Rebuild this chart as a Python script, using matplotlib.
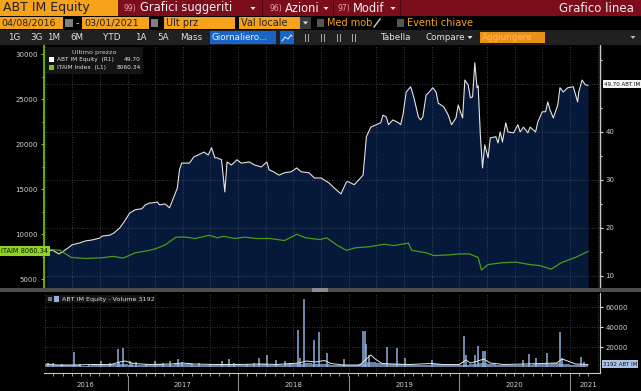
import numpy as np
import matplotlib
matplotlib.use('Agg')
import matplotlib.pyplot as plt
from matplotlib.patches import Rectangle
from matplotlib.lines import Line2D
from matplotlib.transforms import blended_transform_factory

plt.rcParams['font.family'] = ['Liberation Sans Narrow', 'DejaVu Sans']

# =============================================================================
# DATA (decimal years)
# =============================================================================
abt_t = [2016.27, 2016.32, 2016.38, 2016.41, 2016.46, 2016.50, 2016.57, 2016.62,
         2016.68, 2016.75, 2016.77, 2016.84, 2016.88, 2016.93, 2016.97, 2017.02,
         2017.07, 2017.13, 2017.16, 2017.20, 2017.22, 2017.27, 2017.29, 2017.34,
         2017.38, 2017.42, 2017.45, 2017.47, 2017.49, 2017.56, 2017.60, 2017.64,
         2017.69, 2017.73, 2017.76, 2017.79, 2017.81, 2017.85, 2017.88, 2017.90,
         2017.94, 2017.99, 2018.03, 2018.10, 2018.15, 2018.21, 2018.26, 2018.28,
         2018.32, 2018.37, 2018.42, 2018.48, 2018.53, 2018.57, 2018.64, 2018.69,
         2018.75, 2018.82, 2018.87, 2018.93, 2018.98, 2019.00, 2019.05, 2019.09,
         2019.13, 2019.16, 2019.20, 2019.25, 2019.29, 2019.31, 2019.34, 2019.36,
         2019.40, 2019.45, 2019.47, 2019.49, 2019.52, 2019.56, 2019.59, 2019.63,
         2019.65, 2019.67, 2019.70, 2019.72, 2019.76, 2019.79, 2019.81, 2019.86,
         2019.90, 2019.93, 2019.97, 2019.99, 2020.01, 2020.03, 2020.05, 2020.08,
         2020.10, 2020.12, 2020.14, 2020.16, 2020.17, 2020.19, 2020.21, 2020.23,
         2020.26, 2020.28, 2020.33, 2020.35, 2020.37, 2020.39, 2020.42, 2020.44,
         2020.49, 2020.53, 2020.55, 2020.58, 2020.62, 2020.64, 2020.69, 2020.71,
         2020.75, 2020.78, 2020.80, 2020.82, 2020.85, 2020.89, 2020.91, 2020.94,
         2020.98, 2021.03, 2021.07, 2021.08, 2021.11, 2021.14, 2021.164]
abt_px = [15.0, 15.4, 14.6, 15.0, 15.8, 16.5, 16.9, 17.3,
          17.5, 17.9, 18.3, 18.5, 19.0, 20.0, 21.3, 23.1,
          23.8, 24.0, 24.8, 25.2, 25.2, 25.4, 24.8, 25.0,
          24.2, 26.5, 28.3, 32.1, 33.5, 33.5, 34.8, 35.2,
          35.8, 35.2, 36.7, 34.6, 34.6, 34.2, 27.5, 33.75,
          33.1, 34.2, 33.5, 33.75, 33.1, 32.7, 33.75, 32.1,
          31.7, 31.0, 31.5, 31.7, 32.5, 31.7, 31.5, 30.4,
          30.4, 29.4, 28.3, 27.1, 29.6, 29.6, 29.0, 30.0,
          31.0, 39.0, 41.0, 41.5, 41.9, 43.5, 43.1, 41.5,
          42.5, 41.9, 41.5, 43.5, 48.3, 49.4, 47.1, 43.1,
          42.5, 43.1, 47.7, 48.1, 49.2, 48.3, 46.0, 45.2,
          43.5, 41.5, 42.9, 45.6, 44.2, 42.9, 50.8, 49.8,
          47.1, 47.3, 54.4, 49.2, 49.6, 39.4, 32.5, 37.3,
          34.6, 38.75, 39.0, 37.7, 40.0, 37.9, 41.9, 40.0,
          39.8, 41.5, 40.0, 41.0, 39.8, 41.0, 40.0, 42.1,
          44.2, 44.2, 46.25, 44.6, 42.9, 45.6, 49.2, 48.3,
          49.2, 49.4, 46.25, 48.3, 50.8, 49.8, 49.70]

itaim_t = [2016.27, 2016.39, 2016.49, 2016.62, 2016.76, 2016.87, 2016.96, 2017.07,
           2017.20, 2017.26, 2017.34, 2017.44, 2017.52, 2017.61, 2017.74, 2017.81,
           2017.87, 2017.97, 2018.06, 2018.16, 2018.29, 2018.42, 2018.53, 2018.61,
           2018.74, 2018.80, 2018.90, 2018.98, 2019.06, 2019.19, 2019.32, 2019.41,
           2019.54, 2019.57, 2019.70, 2019.77, 2019.90, 2020.00, 2020.09, 2020.17,
           2020.20, 2020.26, 2020.38, 2020.51, 2020.64, 2020.73, 2020.83, 2020.92,
           2021.05, 2021.164]
itaim_px = [8311, 8189, 7400, 7278, 7356, 7511, 7322, 7911,
            8189, 8389, 8789, 9656, 9656, 9500, 9856, 9578,
            9733, 9500, 9656, 9500, 9500, 9267, 9978, 9578,
            9378, 9578, 8711, 8189, 8467, 8589, 8867, 8711,
            8989, 8189, 7911, 7600, 7678, 7789, 7789, 7400,
            6011, 6600, 6800, 6878, 6600, 6489, 6089, 6800,
            7400, 8060.34]

# volume spikes (daily bars that stand out)
vol_spike_t = [2016.28, 2016.33, 2016.41, 2016.52, 2016.57, 2016.65, 2016.76, 2016.84,
               2016.91, 2016.92, 2016.96, 2017.02, 2017.04, 2017.08, 2017.17, 2017.25,
               2017.32, 2017.38, 2017.46, 2017.49, 2017.58, 2017.65, 2017.75, 2017.85,
               2017.92, 2017.96, 2018.08, 2018.14, 2018.19, 2018.26, 2018.34, 2018.42,
               2018.47, 2018.54, 2018.56, 2018.60, 2018.69, 2018.73, 2018.80, 2018.96,
               2019.13, 2019.15, 2019.16, 2019.18, 2019.35, 2019.44, 2019.51, 2019.75,
               2020.04, 2020.06, 2020.14, 2020.17, 2020.21, 2020.23, 2020.58, 2020.63,
               2020.69, 2020.79, 2020.91, 2020.93, 2021.10, 2021.13]
vol_spike_v = [4000, 4000, 3000, 15000, 3500, 3000, 6000, 4500,
               18000, 5000, 19000, 6000, 4000, 5000, 3000, 6000,
               4000, 6000, 8000, 5000, 3500, 4000, 3000, 6000,
               8000, 4500, 3000, 4000, 9000, 12000, 7000, 6000,
               4000, 37000, 9000, 68000, 27000, 35000, 14000, 8000,
               36000, 36000, 23000, 12000, 20000, 19000, 9000, 7000,
               31000, 12000, 12000, 21000, 16000, 16000, 7000, 13000,
               9000, 14000, 35000, 9000, 10000, 5000]

# typical (background) monthly volume level, Apr-2016 .. Feb-2021
vol_base = [3000, 1500, 1800, 1500, 1200, 2000, 1500, 2500, 3000,
            2000, 1800, 2200, 2500, 2000, 3000, 2500, 1500, 2000, 2200, 2500, 2000,
            1800, 2200, 2500, 2000, 2200, 3000, 2500, 3500, 3000, 2500, 2200, 1500,
            1800, 2500, 4500, 3500, 3000, 2500, 2500, 2000, 2000, 2500, 2000, 1800,
            2000, 2500, 4000, 3000, 2000, 1800, 1500, 2000, 2500, 3000, 3500, 2500,
            2000, 2200]

vol_ma_t = [2016.27, 2016.35, 2016.50, 2016.70, 2016.85, 2016.93, 2016.98, 2017.05,
            2017.20, 2017.40, 2017.50, 2017.60, 2017.80, 2018.00, 2018.20, 2018.35,
            2018.55, 2018.62, 2018.70, 2018.78, 2018.84, 2018.95, 2019.10, 2019.16,
            2019.20, 2019.24, 2019.30, 2019.40, 2019.55, 2019.75, 2019.85, 2020.00,
            2020.06, 2020.10, 2020.17, 2020.22, 2020.28, 2020.40, 2020.60, 2020.75,
            2020.88, 2020.93, 2020.98, 2021.05, 2021.164]
vol_ma_v = [3000, 2000, 2000, 2500, 2500, 5000, 6000, 3500,
            2500, 3000, 4000, 3000, 2500, 2500, 3000, 2500,
            4000, 6000, 5000, 6500, 3500, 2000, 2000, 8000,
            12000, 8000, 3500, 3000, 2500, 3500, 2500, 2500,
            7000, 4000, 6000, 8000, 4000, 2500, 3000, 3500,
            4000, 8000, 6000, 3000, 2500]

years = [2016, 2017, 2018, 2019, 2020, 2021]

# =============================================================================
# STYLE
# =============================================================================
W, H = 641, 391
RED = '#7c0d1a'
ORANGE = '#f7a21b'
NAVY = '#06193a'
LIME = '#78c80a'
GRID = '#46505c'
TXT = '#d0d0d0'
VOLC = '#8fb0dc'
X0, X1 = 2016.245, 2021.272


def fx(px):
    return px / W


def fy(py):
    return 1 - py / H


def box(fig, x0, y0, x1, y1, color, **kw):
    fig.patches.append(Rectangle((fx(x0), fy(y1)), fx(x1 - x0), (y1 - y0) / H,
                                 transform=fig.transFigure, facecolor=color,
                                 edgecolor='none', **kw))


def seg(fig, xs, ys, color, lw=0.8):
    fig.lines.append(Line2D([fx(v) for v in xs], [fy(v) for v in ys],
                            transform=fig.transFigure, color=color, lw=lw))


def txt(fig, x, y, s, size=8, color='white', ha='left', **kw):
    fig.text(fx(x), fy(y), s, fontsize=size, color=color, ha=ha, va='center', **kw)


def caret(fig, x, y, color='#f0f0f0'):
    # small downward triangle used by the terminal's drop-down buttons
    fig.patches.append(plt.Polygon([(fx(x - 2.5), fy(y - 1.5)), (fx(x + 2.5), fy(y - 1.5)),
                                    (fx(x), fy(y + 1.5))], closed=True,
                                   transform=fig.transFigure, facecolor=color,
                                   edgecolor='none'))


fig = plt.figure(figsize=(W / 100, H / 100), dpi=100, facecolor='black')

# =============================================================================
# HEADER
# =============================================================================
box(fig, 0, 0, 641, 16, RED)
box(fig, 0, 0, 118, 16, ORANGE)
txt(fig, 3, 8, 'ABT IM Equity', size=9, color='#222222')
for sx in [262, 333, 400]:
    box(fig, sx, 0, sx + 1, 16, '#4a0610')
txt(fig, 124, 8.5, '99)', size=5.5, color='#e8a0a8')
txt(fig, 140, 8, 'Grafici suggeriti', size=8.3, color='#f0f0f0')
caret(fig, 253, 8.5)
txt(fig, 270, 8.5, '96)', size=5.5, color='#e8a0a8')
txt(fig, 285, 8, 'Azioni', size=8.3, color='#f0f0f0')
caret(fig, 326, 8.5)
txt(fig, 338, 8.5, '97)', size=5.5, color='#e8a0a8')
txt(fig, 353, 8, 'Modif', size=8.3, color='#f0f0f0')
caret(fig, 393, 8.5)
txt(fig, 634, 8, 'Grafico linea', size=8.5, color='#f0f0f0', ha='right')

# row 2
box(fig, 0, 17, 63, 29, ORANGE)
txt(fig, 1, 23, '04/08/2016', size=6.8, color='#222222')
box(fig, 65, 19, 73, 27, '#808080')
txt(fig, 76, 23, '-', size=7, color='#dddddd')
box(fig, 82, 17, 149, 29, ORANGE)
txt(fig, 84, 23, '03/01/2021', size=6.8, color='#222222')
box(fig, 151, 19, 158, 27, '#808080')
box(fig, 164, 17, 235, 29, ORANGE)
txt(fig, 166, 23, 'Ult prz', size=7, color='#222222')
box(fig, 239, 17, 300, 29, ORANGE)
txt(fig, 241, 23, 'Val locale', size=7, color='#222222')
box(fig, 300, 17, 311, 29, '#3a3a3a')
caret(fig, 305.5, 23, '#dddddd')
box(fig, 317, 19, 324, 27, '#555555')
txt(fig, 327, 23, 'Med mob', size=7, color=ORANGE)
seg(fig, [374, 380], [27, 19], '#cccccc', lw=1.0)
box(fig, 397, 19, 404, 27, '#555555')
txt(fig, 407, 23, 'Eventi chiave', size=7, color=ORANGE)

# row 3 toolbar
box(fig, 0, 30, 641, 45, '#202020')
for lab, lx in [('1G', 8), ('3G', 30), ('1M', 47), ('6M', 70), ('YTD', 103),
                ('1A', 135), ('5A', 157), ('Mass', 180)]:
    txt(fig, lx, 37.5, lab, size=6.3, color='#e0e0e0')
box(fig, 210, 31, 276, 44, '#1a64c8')
txt(fig, 212, 37.5, 'Giornaliero...', size=6.3, color='#f0f0f0')
box(fig, 280, 31, 294, 44, '#1a64c8')
seg(fig, [282, 285, 288, 291, 292], [41, 37, 39, 35, 36], '#f0f0f0', lw=0.7)
for ix in [305, 321, 337, 352]:
    for dx in [0, 3]:
        seg(fig, [ix + dx, ix + dx], [34, 41], '#aaaaaa', lw=0.7)
txt(fig, 380, 37.5, 'Tabella', size=6.3, color='#e0e0e0')
txt(fig, 425, 37.5, 'Compare', size=6.3, color='#e0e0e0')
caret(fig, 470, 37.5, '#e0e0e0')
box(fig, 480, 32, 545, 43, '#e8901a')
txt(fig, 482, 37.5, 'Aggiungere', size=6.3, color='#ffc04d')
caret(fig, 633, 37.5, '#bbbbbb')

# =============================================================================
# MAIN PANEL
# =============================================================================
rect = [fx(44), fy(290), fx(556), 245 / H]
ax_r = fig.add_axes(rect)
ax_r.set_facecolor('black')
ax_r.fill_between(abt_t, abt_px, 0, color=NAVY, lw=0, zorder=1)
ax_r.plot(abt_t, abt_px, color='#e4e4e4', lw=0.8, zorder=4)
ax_r.set_xlim(X0, X1)
ax_r.set_ylim(7.08, 58.1)
ax_r.yaxis.tick_right()
ax_r.set_yticks([10, 20, 30, 40])
ax_r.set_yticks([15, 25, 35, 45, 55], minor=True)
ax_r.tick_params(axis='y', which='both', colors='#e0e0e0', labelsize=5,
                 length=2.5, width=0.8, pad=1.5, labelcolor=TXT)
ax_r.tick_params(axis='y', which='minor', length=1.5)
ax_r.set_xticks([])
for yv in [10, 20, 30, 40, 50]:
    ax_r.axhline(yv, color=GRID, lw=0.6, ls=(0, (1, 2)), zorder=2)
for yr in np.arange(2016.25, 2021.3, 0.25):
    ax_r.axvline(yr, color=GRID, lw=0.6, ls=(0, (1, 2)), zorder=2)
for s in ['top', 'left', 'bottom']:
    ax_r.spines[s].set_visible(False)
ax_r.spines['right'].set_color('#c8c8c8')
ax_r.spines['right'].set_linewidth(1.0)

ax_l = fig.add_axes(rect, sharex=ax_r)
ax_l.patch.set_visible(False)
ax_l.plot(itaim_t, itaim_px, color='#4c9a18', lw=0.9, zorder=3)
ax_l.set_ylim(3778, 31000)
ax_l.set_yticks([5000, 10000, 15000, 20000, 25000, 30000])
ax_l.set_yticks([7500, 12500, 17500, 22500, 27500], minor=True)
ax_l.tick_params(axis='y', which='both', colors=LIME, labelsize=5, length=2.5,
                 width=0.8, pad=2, labelcolor=TXT)
ax_l.tick_params(axis='y', which='minor', length=1.5)
ax_l.tick_params(axis='x', bottom=False, labelbottom=False)
for s in ['top', 'right', 'bottom']:
    ax_l.spines[s].set_visible(False)
ax_l.spines['left'].set_color(LIME)
ax_l.spines['left'].set_linewidth(1.2)

# legend box
box(fig, 46, 47, 143, 74, '#141414')
txt(fig, 94, 52.5, 'Ultimo prezzo', size=4.6, color='#cfcfcf', ha='center')
box(fig, 49, 57, 54, 62, 'white')
txt(fig, 57, 59.5, 'ABT IM Equity  (R1)', size=4.2, color='#e0e0e0')
txt(fig, 141, 59.5, '49.70', size=4.2, color='#e0e0e0', ha='right')
box(fig, 49, 65, 54, 70, LIME)
txt(fig, 57, 67.5, 'ITAIM Index  (L1)', size=4.2, color='#e0e0e0')
txt(fig, 141, 67.5, '8060.34', size=4.2, color='#e0e0e0', ha='right')

# last-value tags
fig.text(fx(1), fy(251), 'ITAIM 8060.34', fontsize=4.8, color='#111111',
         ha='left', va='center',
         bbox=dict(boxstyle='square,pad=0.35', facecolor='#8fd41e', edgecolor='none'))
fig.text(fx(604), fy(84), '49.70 ABT IM', fontsize=4.0, color='#111111',
         ha='left', va='center',
         bbox=dict(boxstyle='square,pad=0.2', facecolor='#f4f4f4', edgecolor='none'))

# separator
box(fig, 0, 288, 641, 292, '#4d4d4d')
box(fig, 312, 288, 328, 292, '#8a8a8a')

# =============================================================================
# VOLUME PANEL
# =============================================================================
ax_v = fig.add_axes([fx(44), fy(373), fx(556), 80 / H])
ax_v.set_facecolor('black')
base_t = [2016 + (m + 3) / 12 for m in range(len(vol_base))]
base_t.append(2021.164)
ax_v.fill_between(base_t, vol_base + [vol_base[-1]], 0, step='post',
                  color=VOLC, alpha=0.75, lw=0, zorder=2)
ax_v.vlines(vol_spike_t, 0, vol_spike_v, color=VOLC, lw=1.1, zorder=3)
ax_v.plot(vol_ma_t, vol_ma_v, color='#e8e8e8', lw=0.7, zorder=4)
ax_v.set_xlim(X0, X1)
ax_v.set_ylim(-6000, 74000)
for yv in [20000, 40000, 60000]:
    ax_v.axhline(yv, color=GRID, lw=0.6, ls=(0, (1, 2)), zorder=1)
for yr in np.arange(2016.25, 2021.3, 0.25):
    ax_v.axvline(yr, color=GRID, lw=0.6, ls=(0, (1, 2)), zorder=1)
ax_v.yaxis.tick_right()
ax_v.set_yticks([20000, 40000, 60000])
ax_v.tick_params(axis='y', colors='#e0e0e0', labelsize=5, length=2.5, width=0.8,
                 pad=1.5, labelcolor=TXT)
ax_v.set_xticks([])
ax_v.set_xticks(np.arange(2016.33, 2021.2, 1 / 12), minor=True)
ax_v.tick_params(axis='x', which='minor', colors='#bbbbbb', length=2, width=0.6)
ax_v.spines['top'].set_visible(False)
ax_v.spines['left'].set_visible(False)
ax_v.spines['right'].set_color('#c8c8c8')
ax_v.spines['bottom'].set_color('#c8c8c8')

trans = blended_transform_factory(ax_v.transData, ax_v.transAxes)
for yr in years[1:]:
    ax_v.plot([yr, yr], [-0.04, -0.23], color='#8a8a8a', lw=0.8,
              transform=trans, clip_on=False)
edges = [X0] + years[1:] + [2021.33]
for i, yr in enumerate(years):
    ax_v.text((edges[i] + edges[i + 1]) / 2, -0.15, str(yr), transform=trans,
              fontsize=5, color=TXT, ha='center', va='center')

box(fig, 46, 295, 144, 303, '#141414')
box(fig, 48, 297, 52, 301, '#777777')
box(fig, 54, 296, 59, 302, VOLC)
txt(fig, 62, 299, 'ABT IM Equity - Volume 3192', size=4.6, color='#e0e0e0')
fig.text(fx(603), fy(364), '3192 ABT IM', fontsize=4.0, color='#111111',
         ha='left', va='center',
         bbox=dict(boxstyle='square,pad=0.2', facecolor='#a9c2e6', edgecolor='none'))

fig.savefig('out.png', dpi=100, facecolor='black')
